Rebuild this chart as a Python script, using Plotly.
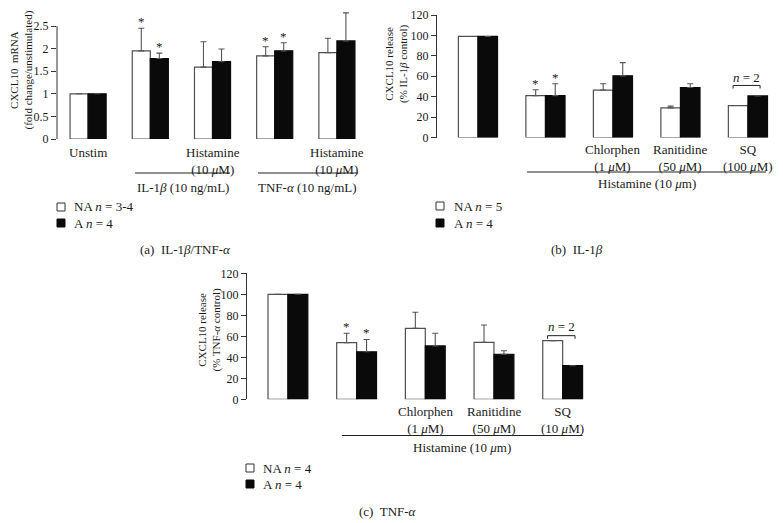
import plotly.graph_objects as go

# ---------------- data ----------------
# Panel (a): CXCL10 mRNA fold change
cats_a = ["Unstim", "IL-1β", "IL-1β + Histamine", "TNF-α", "TNF-α + Histamine"]
ticks_a = ["Unstim", "", "Histamine<br>(10 <i>μ</i>M)", "", "Histamine<br>(10 <i>μ</i>M)"]
na_a = [1.0, 1.95, 1.59, 1.84, 1.91]
na_a_err = [None, 0.50, 0.56, 0.20, 0.32]
a_a = [1.0, 1.78, 1.71, 1.95, 2.17]
a_a_err = [None, 0.12, 0.28, 0.18, 0.62]
star_na_a = [False, True, False, True, False]
star_a_a = [False, True, False, True, False]

# Panel (b): CXCL10 release (% IL-1β control)
cats_b = ["Control", "Histamine", "Chlorphen", "Ranitidine", "SQ"]
ticks_b = ["", "", "Chlorphen<br>(1 <i>μ</i>M)", "Ranitidine<br>(50 <i>μ</i>M)", "SQ<br>(100 <i>μ</i>M)"]
na_b = [99, 41, 46.5, 29, 31.3]
na_b_err = [None, 5.8, 6.1, 1.7, None]
a_b = [99, 41, 60.4, 49, 40.7]
a_b_err = [None, 11.6, 12.9, 3.6, None]
star_na_b = [False, True, False, False, False]
star_a_b = [False, True, False, False, False]

# Panel (c): CXCL10 release (% TNF-α control)
cats_c = ["Control", "Histamine", "Chlorphen", "Ranitidine", "SQ"]
ticks_c = ["", "", "Chlorphen<br>(1 <i>μ</i>M)", "Ranitidine<br>(50 <i>μ</i>M)", "SQ<br>(10 <i>μ</i>M)"]
na_c = [100, 54, 67.6, 54.3, 55.8]
na_c_err = [None, 8.9, 15.3, 16.5, None]
a_c = [100, 45.3, 50.8, 42.9, 32]
a_c_err = [None, 11.7, 12.1, 3.4, None]
star_na_c = [False, True, False, False, False]
star_a_c = [False, True, False, False, False]

legend_a = ["NA <i>n</i> = 3-4", "A <i>n</i> = 4"]
legend_b = ["NA <i>n</i> = 5", "A <i>n</i> = 4"]
legend_c = ["NA <i>n</i> = 4", "A <i>n</i> = 4"]

# ---------------- style / layout helpers ----------------
PAGE_W, PAGE_H = 783, 523
OFF = 8  # default body margin of the html page
W, H = PAGE_W - OFF, PAGE_H - OFF
FONT = "Liberation Serif"
TXT = "#1a1a1a"
BARGAP = 0.42
OUTLINE = "#505050"
BLACK = "#0a0a0a"


def px(x):
    return min(max((x - OFF) / W, 0), 1)


def py(y):
    return min(max(1 - (y - OFF) / H, 0), 1)


fig = go.Figure()

panels = [
    dict(xa="x", ya="y", cats=cats_a, ticks=ticks_a, na=na_a, nae=na_a_err, a=a_a,
         ae=a_a_err, sna=star_na_a, sa=star_a_a, names=legend_a, tick_top=143),
    dict(xa="x2", ya="y2", cats=cats_b, ticks=ticks_b, na=na_b, nae=na_b_err, a=a_b,
         ae=a_b_err, sna=star_na_b, sa=star_a_b, names=legend_b, tick_top=140),
    dict(xa="x3", ya="y3", cats=cats_c, ticks=ticks_c, na=na_c, nae=na_c_err, a=a_c,
         ae=a_c_err, sna=star_na_c, sa=star_a_c, names=legend_c, tick_top=402),
]

off = (1 - BARGAP) / 4
annotations = []
shapes = []
for p in panels:
    xs = list(range(len(p["cats"])))
    for vals, errs, fill, line, stars, sgn in [
        (p["na"], p["nae"], "white", OUTLINE, p["sna"], -1),
        (p["a"], p["ae"], BLACK, BLACK, p["sa"], 1),
    ]:
        fig.add_trace(go.Bar(
            x=xs, y=vals, xaxis=p["xa"], yaxis=p["ya"], showlegend=False,
            marker=dict(color=fill, line=dict(color=line, width=1.2)),
            error_y=dict(type="data", symmetric=False, array=errs,
                         arrayminus=[0] * len(errs), color="#555555",
                         thickness=1.1, width=3),
            hoverinfo="skip",
        ))
        for i, s in enumerate(stars):
            if s:
                top = vals[i] + (errs[i] or 0)
                annotations.append(dict(
                    x=i + sgn * off, y=top, xref=p["xa"], yref=p["ya"],
                    text="*", showarrow=False, yanchor="bottom", yshift=-3,
                    font=dict(family=FONT, size=13, color="#222222")))
    # category labels below groups
    for i, t in enumerate(p["ticks"]):
        if t:
            annotations.append(dict(
                x=i, y=py(p["tick_top"]), xref=p["xa"], yref="paper", text=t,
                showarrow=False, xanchor="center", yanchor="top",
                font=dict(family=FONT, size=13, color=TXT)))

fig.update_layout(barmode="group", bargap=BARGAP)

xcommon = dict(showline=False, showgrid=False, zeroline=False, ticks="",
               showticklabels=False, fixedrange=True, automargin=False)
ycommon = dict(showgrid=False, zeroline=False, ticks="outside", ticklen=5,
               tickcolor="#333333", tickwidth=1, automargin=False, fixedrange=True,
               ticklabeloverflow="allow",
               tickfont=dict(family=FONT, size=12, color=TXT))

A_TOP = 2.85
A_PX_PER_UNIT = (139 - 26) / 2.5

fig.update_layout(
    xaxis=dict(xcommon, domain=[px(57), px(368)], range=[-0.5, 4.5], anchor="y"),
    yaxis=dict(ycommon, domain=[py(139), py(139 - A_TOP * A_PX_PER_UNIT)],
               range=[0, A_TOP],
               tickvals=[0, 0.5, 1, 1.5, 2, 2.5],
               ticktext=["0", "0.5", "1", "1.5", "2", "2.5"],
               showline=False, anchor="x"),
    xaxis2=dict(xcommon, domain=[px(437), px(781)], range=[-0.607, 4.49], anchor="y2"),
    yaxis2=dict(ycommon, domain=[py(137.5), py(15)], range=[0, 120],
                tickvals=list(range(0, 121, 20)), showline=True,
                linecolor="#333333", linewidth=1, anchor="x2"),
    xaxis3=dict(xcommon, domain=[px(247), px(597)], range=[-0.596, 4.5], anchor="y3"),
    yaxis3=dict(ycommon, domain=[py(399.3), py(273.3)], range=[0, 120],
                tickvals=list(range(0, 121, 20)), showline=True,
                linecolor="#333333", linewidth=1, anchor="x3"),
)

# y axis line for panel (a) (only up to 2.5)
shapes.append(dict(type="line", xref="x domain", yref="y", x0=0, x1=0, y0=0, y1=2.5,
                   line=dict(color="#333333", width=1)))


def underline(xref, x0, x1, ypx):
    shapes.append(dict(type="line", xref=xref, yref="paper", x0=x0, x1=x1,
                       y0=py(ypx), y1=py(ypx), line=dict(color="#222222", width=1)))


underline("x", 1 - 0.245, 2 + 0.28, 173)
underline("x", 3 - 0.27, 4 + 0.34, 173)
underline("x2", 1 - 0.274, 4 + 0.27, 172)
underline("x3", 1 - 0.215, 4 + 0.29, 435.5)


def label(xref, x, ypx, text, size=13, xanchor="center"):
    annotations.append(dict(x=x, y=py(ypx), xref=xref, yref="paper", text=text,
                            showarrow=False, xanchor=xanchor, yanchor="middle",
                            font=dict(family=FONT, size=size, color=TXT)))


label("x", 1.52, 187, "IL-1<i>β</i> (10 ng/mL)")
label("x", 3.53, 187, "TNF-<i>α</i> (10 ng/mL)")
label("x2", 2.5, 183, "Histamine (10 <i>μ</i>m)")
label("x3", 2.54, 447, "Histamine (10 <i>μ</i>m)")


# n = 2 brackets
def bracket(xref, yref, xc, yb, tick, ytext):
    x0, x1 = xc - 0.22, xc + 0.18
    shapes.append(dict(type="path", xref=xref, yref=yref,
                       path=f"M{x0},{yb - tick} L{x0},{yb} L{x1},{yb} L{x1},{yb - tick}",
                       line=dict(color="#222222", width=1)))
    annotations.append(dict(x=(x0 + x1) / 2, y=ytext, xref=xref, yref=yref,
                            text="<i>n</i> = 2", showarrow=False, yanchor="middle",
                            font=dict(family=FONT, size=13, color=TXT)))


bracket("x2", "y2", 4, 51, 3, 59)
bracket("x3", "y3", 4, 60.6, 3, 69)


# y-axis titles
def ytitle(xpx, ypx, text, size):
    annotations.append(dict(x=px(xpx), y=py(ypx), xref="paper", yref="paper",
                            text=text, textangle=-90, showarrow=False,
                            xanchor="center", yanchor="middle",
                            font=dict(family=FONT, size=size, color=TXT)))


ytitle(20.5, 70, "CXCL10  mRNA<br>(fold change/unstimulated)", 11)
ytitle(396, 64, "CXCL10 release<br>(% IL-1<i>β</i> control)", 11)
ytitle(208.5, 330, "CXCL10 release<br>(% TNF-<i>α</i> control)", 11)

# panel captions
label("paper", px(185), 249, "(a)  IL-1<i>β</i>/TNF-<i>α</i>")
label("paper", px(577), 249, "(b)  IL-1<i>β</i>")
label("paper", px(388), 511, "(c)  TNF-<i>α</i>")


# legend keys and texts
def legend_block(xsq, ys, xtext, names):
    for yk, name, fill, line in [(ys[0], names[0], "white", "#333333"),
                                 (ys[1], names[1], BLACK, BLACK)]:
        shapes.append(dict(type="rect", xref="paper", yref="paper",
                           x0=px(xsq - 4), x1=px(xsq + 4), y0=py(yk + 4), y1=py(yk - 4),
                           fillcolor=fill, line=dict(color=line, width=1)))
        label("paper", px(xtext), yk, name, xanchor="left")


legend_block(61, (207, 223), 72, legend_a)
legend_block(440, (206, 223), 452, legend_b)
legend_block(250, (468, 484), 261, legend_c)

fig.update_layout(
    width=W, height=H,
    margin=dict(l=0, r=0, t=0, b=0, pad=0, autoexpand=False),
    paper_bgcolor="white", plot_bgcolor="white", showlegend=False,
    shapes=shapes, annotations=annotations,
    font=dict(family=FONT, color=TXT),
)

fig.write_html("out.html")
